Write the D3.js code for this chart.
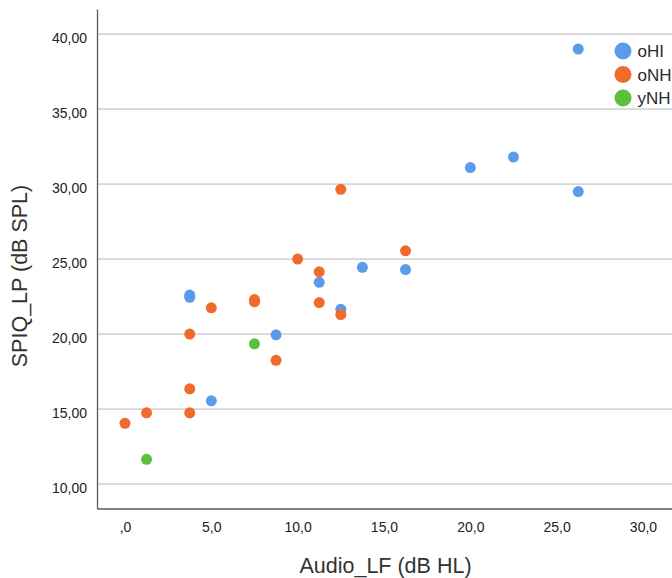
<!DOCTYPE html>
<html>
<head>
<meta charset="utf-8">
<script src="https://cdn.jsdelivr.net/npm/d3@7"></script>
<style>
  html, body { margin: 0; padding: 0; background: #fff; }
  svg { display: block; font-family: "Liberation Sans", Arial, sans-serif; }
</style>
</head>
<body>
<svg id="chart" width="672" height="578"></svg>
<script>
// Groups and their colours
const groups = ["oHI", "oNH", "yNH"];
const groupColors = ["#5b9beb", "#f26a2b", "#5cbf3d"];

// Audio_LF (dB HL) per group
const oHI_x = [26.25, 22.5, 20.0, 26.25, 13.75, 16.25, 11.25, 12.5, 3.75, 3.75, 8.75, 5.0];
const oNH_x = [12.5, 10.0, 16.25, 11.25, 7.5, 7.5, 5.0, 11.25, 12.5, 3.75, 8.75, 3.75, 1.25, 3.75, 0.0];
const yNH_x = [7.5, 1.25];

// SPIQ_LP (dB SPL) per group
const oHI_y = [39.0, 31.8, 31.1, 29.5, 24.45, 24.3, 23.45, 21.65, 22.6, 22.45, 19.95, 15.55];
const oNH_y = [29.65, 25.0, 25.55, 24.15, 22.3, 22.15, 21.75, 22.1, 21.3, 20.0, 18.25, 16.35, 14.75, 14.75, 14.05];
const yNH_y = [19.35, 11.65];

// Axis ticks
const xTicks = [0, 5, 10, 15, 20, 25, 30];
const xTickLabels = [",0", "5,0", "10,0", "15,0", "20,0", "25,0", "30,0"];
const yTicks = [10, 15, 20, 25, 30, 35, 40];
const yTickLabels = ["10,00", "15,00", "20,00", "25,00", "30,00", "35,00", "40,00"];

const xTitle = "Audio_LF (dB HL)";
const yTitle = "SPIQ_LP (dB SPL)";

const seriesX = [oHI_x, oNH_x, yNH_x];
const seriesY = [oHI_y, oNH_y, yNH_y];

const svg = d3.select("#chart");
const plotLeft = 97, plotRight = 672, plotTop = 9, plotBottom = 508.5;

const x = d3.scaleLinear().domain([-1.62, 31.68]).range([plotLeft, plotRight]);
const y = d3.scaleLinear().domain([8.37, 41.67]).range([plotBottom, plotTop]);

// Horizontal gridlines
svg.append("g")
  .selectAll("line")
  .data(yTicks)
  .join("line")
  .attr("x1", plotLeft).attr("x2", plotRight)
  .attr("y1", d => y(d)).attr("y2", d => y(d))
  .attr("stroke", "#d6d6d6")
  .attr("stroke-width", 1.8);

// Y axis
const yAxis = svg.append("g")
  .attr("transform", `translate(${plotLeft},0)`)
  .call(d3.axisLeft(y).tickValues(yTicks).tickSize(0).tickPadding(10)
    .tickFormat((d, i) => yTickLabels[i]));
yAxis.select(".domain").attr("stroke", "#5a5a5a").attr("stroke-width", 1.3);
yAxis.selectAll("text")
  .attr("font-size", 14)
  .attr("fill", "#222")
  .attr("dy", "0.62em");

// X axis
const xAxis = svg.append("g")
  .attr("transform", `translate(0,${plotBottom})`)
  .call(d3.axisBottom(x).tickValues(xTicks).tickSize(0).tickPadding(14)
    .tickFormat((d, i) => xTickLabels[i]));
xAxis.select(".domain").attr("stroke", "#5a5a5a").attr("stroke-width", 1.3);
xAxis.selectAll("text")
  .attr("font-size", 14)
  .attr("fill", "#222");

// Points, one layer per group
groups.forEach((g, gi) => {
  const pts = seriesX[gi].map((v, i) => ({ x: v, y: seriesY[gi][i] }));
  svg.append("g")
    .selectAll("circle")
    .data(pts)
    .join("circle")
    .attr("cx", d => x(d.x))
    .attr("cy", d => y(d.y))
    .attr("r", 5.5)
    .attr("fill", groupColors[gi]);
});

// Legend
const legend = svg.append("g");
groups.forEach((g, i) => {
  const ly = 51 + i * 23.5;
  legend.append("circle")
    .attr("cx", 623).attr("cy", ly).attr("r", 8.5)
    .attr("fill", groupColors[i]);
  legend.append("text")
    .attr("x", 637.5).attr("y", ly + 6)
    .attr("font-size", 17)
    .attr("fill", "#2a2a2a")
    .text(g);
});

// Axis titles
svg.append("text")
  .attr("x", 385.5).attr("y", 573)
  .attr("text-anchor", "middle")
  .attr("font-size", 21.5)
  .attr("fill", "#333")
  .text(xTitle);

svg.append("text")
  .attr("transform", "translate(27,276) rotate(-90)")
  .attr("text-anchor", "middle")
  .attr("font-size", 21.5)
  .attr("fill", "#333")
  .text(yTitle);
</script>
</body>
</html>
